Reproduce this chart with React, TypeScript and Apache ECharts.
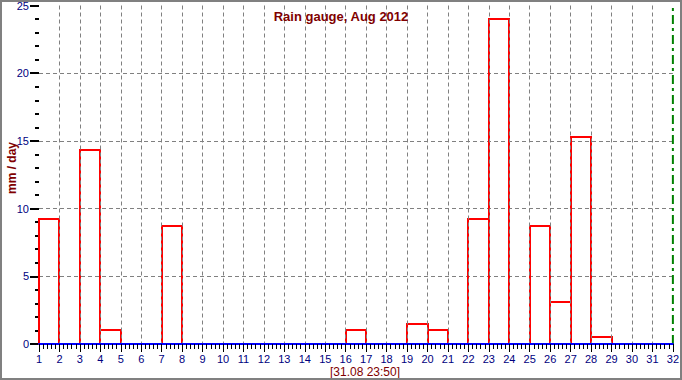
import React, { useEffect, useRef } from "react";
import * as echarts from "echarts";

const days = [1,2,3,4,5,6,7,8,9,10,11,12,13,14,15,16,17,18,19,20,21,22,23,24,25,26,27,28,29,30,31];
const rain = [9.2,0,14.3,1.0,0,0,8.7,0,0,0,0,0,0,0,0,1.0,0,0,1.5,1.0,0,9.2,24.0,0,8.7,3.1,15.3,0.5,0,0,0];
const titleText = "Rain gauge, Aug 2012";
const yName = "mm / day";
const stampText = "[31.08 23:50]";
const nowMarker = 32;
const yRange = [0, 25];

export default function App() {
  const ref = useRef<HTMLDivElement>(null);
  useEffect(() => {
    if (!ref.current) return;
    const chart = echarts.init(ref.current, null, { renderer: "svg" });
    const data = days.map((d, i) => [d, rain[i]]).filter((p) => p[1] > 0);
    const font = "'Liberation Sans', Arial, sans-serif";
    chart.setOption({
      animation: false,
      backgroundColor: "#ffffff",
      title: {
        text: titleText,
        left: "center",
        top: 5,
        textStyle: { fontFamily: font, fontSize: 13, fontWeight: "bold", color: "#800000" },
      },
      grid: { left: 39, right: 5, top: 4, bottom: 36, containLabel: false },
      xAxis: {
        type: "value",
        min: 1,
        max: 32,
        interval: 1,
        z: 5,
        axisLine: { show: true, lineStyle: { color: "#0000ff", width: 2 } },
        axisTick: { show: true, length: 8, lineStyle: { color: "#000000", width: 1 } },
        minorTick: { show: true, splitNumber: 5, length: 5, lineStyle: { color: "#000000", width: 1 } },
        axisLabel: { color: "#000080", fontFamily: font, fontSize: 11, margin: 9 },
        splitLine: {
          show: true,
          showMinLine: false,
          showMaxLine: false,
          lineStyle: { color: "#808080", type: [4, 3], width: 1 },
        },
      },
      yAxis: {
        type: "value",
        min: yRange[0],
        max: yRange[1],
        interval: 5,
        axisLine: { show: false },
        axisTick: { show: true, length: 9, lineStyle: { color: "#000000", width: 2 } },
        minorTick: { show: true, splitNumber: 5, length: 4, lineStyle: { color: "#000000", width: 2 } },
        axisLabel: { color: "#000080", fontFamily: font, fontSize: 11, margin: 10 },
        splitLine: {
          show: true,
          showMinLine: false,
          showMaxLine: false,
          lineStyle: { color: "#808080", type: [4, 3], width: 1 },
        },
      },
      series: [
        {
          type: "custom",
          z: 2,
          data,
          renderItem: (params: any, api: any) => {
            const x0 = api.value(0);
            const v = api.value(1);
            const p0 = api.coord([x0, v]);
            const p1 = api.coord([x0 + 1, 0]);
            const x = Math.round(p0[0]);
            const y = Math.round(p0[1]);
            const x1 = Math.round(p1[0]);
            const y1 = Math.round(p1[1]);
            return {
              type: "rect",
              shape: { x, y, width: x1 - x, height: y1 - y },
              style: { fill: "transparent", stroke: "#ff0000", lineWidth: 2 },
            };
          },
        },
        {
          type: "line",
          z: 3,
          symbol: "none",
          silent: true,
          data: [[nowMarker, yRange[0]], [nowMarker, yRange[1]]],
          lineStyle: { color: "#008000", type: [9, 4, 3, 4], width: 2 },
        },
      ],
      graphic: [
        {
          type: "rect",
          shape: { x: 1, y: 1, width: 680, height: 378 },
          style: { fill: "transparent", stroke: "#808080", lineWidth: 2 },
          silent: true,
          z: 10,
        },
        {
          type: "text",
          x: 12,
          y: 168,
          rotation: Math.PI / 2,
          style: {
            text: yName,
            fill: "#800000",
            font: "bold 12px 'Liberation Sans', Arial, sans-serif",
            align: "center",
            verticalAlign: "middle",
          },
        },
        {
          type: "text",
          x: 365,
          y: 372,
          style: {
            text: stampText,
            fill: "#800000",
            font: "12px 'Liberation Sans', Arial, sans-serif",
            align: "center",
            verticalAlign: "middle",
          },
        },
      ],
    });
    return () => chart.dispose();
  }, []);
  return (
    <div
      ref={ref}
      style={{ position: "fixed", left: 0, top: 0, width: 682, height: 380 }}
    />
  );
}
